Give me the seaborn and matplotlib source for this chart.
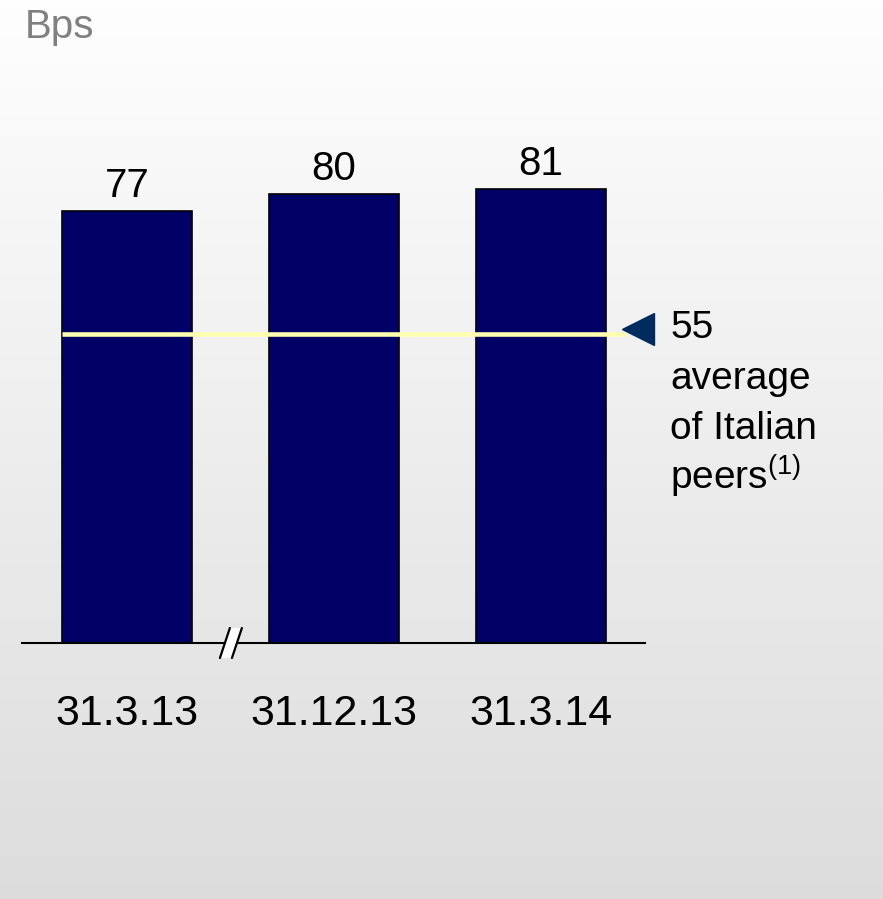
import numpy as np
import pandas as pd
import matplotlib
matplotlib.use("Agg")
import matplotlib.pyplot as plt
import matplotlib.transforms as mtransforms
from matplotlib.patches import Polygon
import seaborn as sns

# Data
dates = ["31.3.13", "31.12.13", "31.3.14"]
bps = [77, 80, 81]
peer_average = 55
peer_label = ["average", "of Italian", "peers$^{(1)}$"]
unit_label = "Bps"

sns.set_theme(style="white")
plt.rcParams["font.family"] = ["Liberation Sans", "DejaVu Sans"]
plt.rcParams["mathtext.fontset"] = "custom"
plt.rcParams["mathtext.rm"] = "Liberation Sans"
plt.rcParams["mathtext.it"] = "Liberation Sans"

W, H = 883, 899
fig = plt.figure(figsize=(W / 100, H / 100), dpi=100)

# Vertical grey gradient backdrop
bg = fig.add_axes([0, 0, 1, 1], zorder=-10)
grad = np.linspace(0.997, 0.865, 256).reshape(-1, 1)
bg.imshow(np.dstack([grad, grad, grad]), aspect="auto", extent=[0, 1, 0, 1],
          origin="upper")
bg.axis("off")

# Main plotting area (pixel geometry)
left_px, right_px = 22, 645
base_px, top_px = 643, 82
ax = fig.add_axes([left_px / W, (H - base_px) / H,
                   (right_px - left_px) / W, (base_px - top_px) / H])
ax.patch.set_alpha(0)

df = pd.DataFrame({"date": dates, "bps": bps})
sns.barplot(data=df, x="date", y="bps", ax=ax, color="#000066",
            width=0.63, edgecolor="black", linewidth=1.2, saturation=1)

ax.set_xlim(-0.507, 2.502)
ax.set_ylim(0, 100)
for s in ["top", "right", "left"]:
    ax.spines[s].set_visible(False)
ax.spines["bottom"].set_color("black")
ax.spines["bottom"].set_linewidth(1.5)
ax.set_yticks([])
ax.set_xlabel("")
ax.set_ylabel("")
ax.tick_params(axis="x", length=0, pad=59, labelsize=31, colors="black")
for lab in ax.get_xticklabels():
    lab.set_verticalalignment("baseline")

# Value labels on top of bars
for i, v in enumerate(bps):
    ax.text(i, v + 2.5, f"{v}", ha="center", va="baseline", fontsize=29,
            color="black")

# Peer-average reference line with pointer
ax.plot([-0.315, 2.41], [peer_average, peer_average], color="#ffffb0",
        lw=3.3, solid_capstyle="butt", zorder=5, clip_on=False)
lift = mtransforms.offset_copy(ax.transData, fig=fig, x=0, y=5, units="dots")
ax.plot([2.469], [peer_average], marker="<", markersize=23.5,
        color="#002b5e", clip_on=False, zorder=6, linestyle="none",
        transform=lift)

# Peer-average annotation, one line at a time
px_unit = (base_px - top_px) / 100.0
text_x = 2.623
ax.text(text_x, peer_average, f"{peer_average}", ha="left", va="baseline",
        fontsize=28, color="black", clip_on=False,
        transform=mtransforms.offset_copy(ax.transData, fig=fig, x=0,
                                          y=-4, units="dots"))
for k, line in enumerate(peer_label, start=1):
    ax.text(text_x, peer_average, line, ha="left", va="baseline",
            fontsize=28, color="black", clip_on=False,
            transform=mtransforms.offset_copy(ax.transData, fig=fig, x=0,
                                              y=-4 - 50.5 * k, units="dots"))

# Axis break mark between the first two bars
bx = 0.502
dx, dy = 0.024, 2.67
gap = 0.029
poly = Polygon([[bx - gap - dx, -dy], [bx - gap + dx, dy],
                [bx + gap + dx, dy], [bx + gap - dx, -dy]],
               closed=True, facecolor="white", edgecolor="none",
               clip_on=False, zorder=7)
ax.add_patch(poly)
for off in (-gap, gap):
    ax.plot([bx + off - dx, bx + off + dx], [-dy, dy], color="black",
            lw=1.6, clip_on=False, zorder=8)

# Unit caption
fig.text(25 / W, 1 - 38 / H, unit_label, ha="left", va="baseline",
         fontsize=29, color="#808080")

fig.savefig("out.png", dpi=100)
